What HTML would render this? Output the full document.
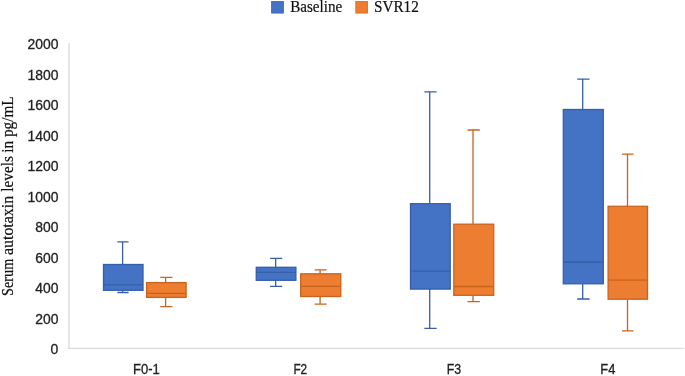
<!DOCTYPE html>
<html><head><meta charset="utf-8"><title>Chart</title>
<style>
html,body{margin:0;padding:0;background:#fff;}
body{width:685px;height:376px;overflow:hidden;}
svg{display:block;will-change:transform;}
.ser{font-family:"Liberation Serif","DejaVu Serif",serif;font-size:16px;fill:#111;stroke:#111;stroke-width:0.2px;}
.san{font-family:"Liberation Sans","DejaVu Sans",sans-serif;font-size:14.1px;fill:#222;stroke:#222;stroke-width:0.3px;}
</style></head><body>
<svg width="685" height="376" viewBox="0 0 685 376">
<rect width="685" height="376" fill="#fff"/>

<rect x="271.6" y="1.4" width="11.8" height="11.7" fill="#4472C4" stroke="#3A65B3" stroke-width="0.8"/>
<text class="ser" x="290.2" y="12" textLength="52" lengthAdjust="spacingAndGlyphs">Baseline</text>
<rect x="355.8" y="1.4" width="11.8" height="11.7" fill="#ED7D31" stroke="#D46C27" stroke-width="0.8"/>
<text class="ser" x="374" y="12" textLength="44.8" lengthAdjust="spacingAndGlyphs">SVR12</text>
<g class="ser" transform="translate(12.5,0) rotate(-90)">
<text x="-295.90" y="0" textLength="37.20" lengthAdjust="spacingAndGlyphs">Serum</text>
<text x="-255.00" y="0" textLength="59.10" lengthAdjust="spacingAndGlyphs">autotaxin</text>
<text x="-191.70" y="0" textLength="35.60" lengthAdjust="spacingAndGlyphs">levels</text>
<text x="-152.70" y="0" textLength="11.90" lengthAdjust="spacingAndGlyphs">in</text>
<text x="-137.10" y="0" textLength="40.80" lengthAdjust="spacingAndGlyphs">pg/mL</text>
</g>
<path d="M69 42.9 V348.3" fill="none" stroke="#E0E0E0" stroke-width="1.6"/><path d="M68.2 348.3 H683.9" fill="none" stroke="#DADADA" stroke-width="1.3"/>
<text class="san" x="58.4" y="354.1" text-anchor="end" textLength="7.8" lengthAdjust="spacingAndGlyphs">0</text>
<text class="san" x="58.4" y="323.6" text-anchor="end" textLength="23.2" lengthAdjust="spacingAndGlyphs">200</text>
<text class="san" x="58.4" y="293.1" text-anchor="end" textLength="23.2" lengthAdjust="spacingAndGlyphs">400</text>
<text class="san" x="58.4" y="262.6" text-anchor="end" textLength="23.2" lengthAdjust="spacingAndGlyphs">600</text>
<text class="san" x="58.4" y="232.1" text-anchor="end" textLength="23.2" lengthAdjust="spacingAndGlyphs">800</text>
<text class="san" x="58.4" y="201.6" text-anchor="end" textLength="31.0" lengthAdjust="spacingAndGlyphs">1000</text>
<text class="san" x="58.4" y="171.1" text-anchor="end" textLength="31.0" lengthAdjust="spacingAndGlyphs">1200</text>
<text class="san" x="58.4" y="140.6" text-anchor="end" textLength="31.0" lengthAdjust="spacingAndGlyphs">1400</text>
<text class="san" x="58.4" y="110.1" text-anchor="end" textLength="31.0" lengthAdjust="spacingAndGlyphs">1600</text>
<text class="san" x="58.4" y="79.6" text-anchor="end" textLength="31.0" lengthAdjust="spacingAndGlyphs">1800</text>
<text class="san" x="58.4" y="49.1" text-anchor="end" textLength="31.0" lengthAdjust="spacingAndGlyphs">2000</text>
<text class="san" x="146.4" y="374.2" text-anchor="middle" textLength="26.8" lengthAdjust="spacingAndGlyphs">F0-1</text>
<text class="san" x="300.3" y="374.2" text-anchor="middle" textLength="13.8" lengthAdjust="spacingAndGlyphs">F2</text>
<text class="san" x="454.0" y="374.2" text-anchor="middle" textLength="14.4" lengthAdjust="spacingAndGlyphs">F3</text>
<text class="san" x="607.8" y="374.2" text-anchor="middle" textLength="15.0" lengthAdjust="spacingAndGlyphs">F4</text>
<g stroke="#3560A9" stroke-width="1.3" fill="none">
<path d="M122.60 241.80 V264.50 M122.60 290.30 V292.50 M117.40 241.80 H128.60 M117.40 292.50 H128.60"/>
<rect x="103.50" y="264.50" width="39.50" height="25.80" fill="#4472C4"/>
<path d="M103.50 284.90 H143.00"/>
</g>
<g stroke="#CB631D" stroke-width="1.3" fill="none">
<path d="M165.60 277.40 V282.60 M165.60 297.40 V306.60 M160.20 277.40 H172.40 M160.20 306.60 H172.40"/>
<rect x="146.60" y="282.60" width="39.50" height="14.80" fill="#ED7D31"/>
<path d="M146.60 293.30 H186.10"/>
</g>
<g stroke="#3560A9" stroke-width="1.3" fill="none">
<path d="M275.65 258.45 V267.30 M275.65 280.30 V286.35 M270.10 258.45 H282.20 M270.10 286.35 H282.20"/>
<rect x="256.25" y="267.30" width="39.65" height="13.00" fill="#4472C4"/>
<path d="M256.25 272.30 H295.90"/>
</g>
<g stroke="#CB631D" stroke-width="1.3" fill="none">
<path d="M320.10 269.90 V273.80 M320.10 296.50 V304.20 M314.60 269.90 H326.60 M314.60 304.20 H326.60"/>
<rect x="300.70" y="273.80" width="40.10" height="22.70" fill="#ED7D31"/>
<path d="M300.70 286.35 H340.80"/>
</g>
<g stroke="#3560A9" stroke-width="1.3" fill="none">
<path d="M429.70 91.80 V203.70 M429.70 289.10 V328.40 M424.40 91.80 H436.70 M424.40 328.40 H436.70"/>
<rect x="410.50" y="203.70" width="39.70" height="85.40" fill="#4472C4"/>
<path d="M410.50 271.15 H450.20"/>
</g>
<g stroke="#CB631D" stroke-width="1.3" fill="none">
<path d="M473.00 130.00 V224.20 M473.00 295.30 V301.60 M467.50 130.00 H479.80 M467.50 301.60 H479.80"/>
<rect x="453.80" y="224.20" width="39.90" height="71.10" fill="#ED7D31"/>
<path d="M453.80 286.50 H493.70"/>
</g>
<g stroke="#3560A9" stroke-width="1.3" fill="none">
<path d="M582.70 79.10 V109.50 M582.70 283.80 V299.00 M577.20 79.10 H589.60 M577.20 299.00 H589.60"/>
<rect x="563.30" y="109.50" width="40.00" height="174.30" fill="#4472C4"/>
<path d="M563.30 262.00 H603.30"/>
</g>
<g stroke="#CB631D" stroke-width="1.3" fill="none">
<path d="M627.50 154.10 V206.30 M627.50 299.20 V330.80 M622.00 154.10 H633.50 M622.00 330.80 H633.50"/>
<rect x="608.10" y="206.30" width="39.40" height="92.90" fill="#ED7D31"/>
<path d="M608.10 280.10 H647.50"/>
</g>
</svg></body></html>
